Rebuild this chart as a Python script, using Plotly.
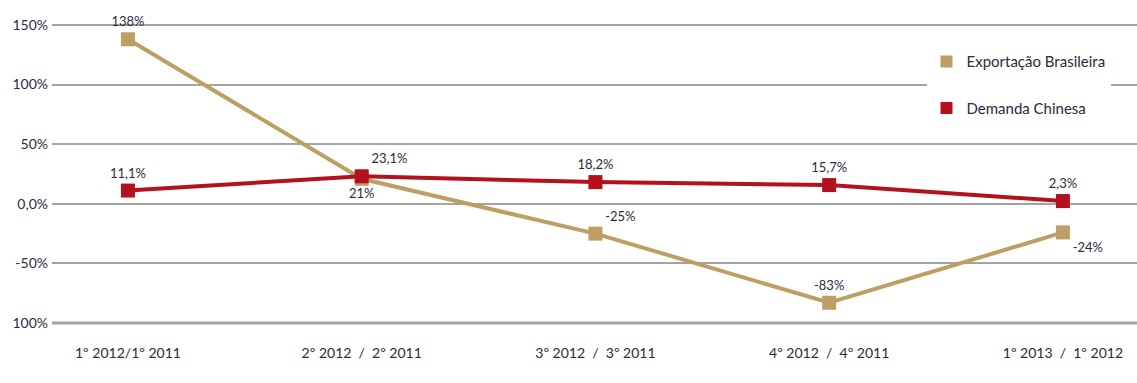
import plotly.graph_objects as go

# Quarter-over-quarter comparisons
categories = ["1º 2012/1º 2011", "2º 2012  /  2º 2011", "3º 2012  /  3º 2011",
              "4º 2012  /  4º 2011", "1º 2013  /  1º 2012"]

# Variation (%) per series
exportacao = [138, 21, -25, -83, -24]
demanda = [11.1, 23.1, 18.2, 15.7, 2.3]

# Y axis ticks
y_tickvals = [150, 100, 50, 0, -50, -100]
y_ticktext = ["150%", "100%", "50%", "0,0%", "-50%", "100%"]

GOLD = "#bc9f62"
RED = "#b3121d"
TEXT = "#2b2b3a"
FONT = "Lato, Roboto, sans-serif"


def label_text(values):
    return [f"{v:g}".replace(".", ",") + "%" for v in values]


fig = go.Figure()

fig.add_trace(go.Scatter(
    x=categories, y=exportacao, mode="lines+markers+text",
    line=dict(color=GOLD, width=4),
    marker=dict(symbol="square", size=14, color=GOLD),
    text=label_text(exportacao),
    textposition=["top center", "bottom center", "top right", "top center", "bottom right"],
    textfont=dict(family=FONT, size=13, color=TEXT),
    showlegend=False, cliponaxis=False,
))

fig.add_trace(go.Scatter(
    x=categories, y=demanda, mode="lines+markers+text",
    line=dict(color=RED, width=4),
    marker=dict(symbol="square", size=14, color=RED),
    text=label_text(demanda),
    textposition=["top center", "top right", "top center", "top center", "top center"],
    textfont=dict(family=FONT, size=13, color=TEXT),
    showlegend=False, cliponaxis=False,
))

# Legend entries (square swatches only)
for name, color, grp in [("Exportação Brasileira", GOLD, "a"), ("Demanda Chinesa", RED, "b")]:
    fig.add_trace(go.Scatter(
        x=[None], y=[None], mode="markers", name=name, legendgroup=grp,
        marker=dict(symbol="square", size=15, color=color),
    ))

# Darker baseline at the bottom gridline
fig.add_shape(type="line", xref="paper", x0=0, x1=1, yref="y", y0=-100, y1=-100,
              line=dict(color="#4a4a4a", width=2.5), layer="below")

fig.update_layout(
    width=1137, height=383,
    margin=dict(l=52, r=0, t=19, b=54),
    paper_bgcolor="white", plot_bgcolor="white",
    font=dict(family=FONT, size=14, color=TEXT),
    showlegend=True,
    legend=dict(
        x=0.806, y=0.915, xanchor="left", yanchor="top",
        bgcolor="white", borderwidth=0,
        font=dict(family=FONT, size=15, color=TEXT),
        tracegroupgap=24, itemsizing="constant",
        entrywidth=200, entrywidthmode="pixels",
    ),
    xaxis=dict(
        type="category", range=[-0.325, 4.317],
        showgrid=False, zeroline=False, showline=False, ticks="",
        ticklabelstandoff=14, tickfont=dict(family=FONT, size=14, color=TEXT),
    ),
    yaxis=dict(
        range=[-105, 155], tickvals=y_tickvals, ticktext=y_ticktext,
        showgrid=True, gridcolor="#a3a3a3", gridwidth=2,
        zeroline=False, showline=False, ticks="",
        ticklabelstandoff=3, tickfont=dict(family=FONT, size=14, color=TEXT),
    ),
)

fig.write_html("out.html")
